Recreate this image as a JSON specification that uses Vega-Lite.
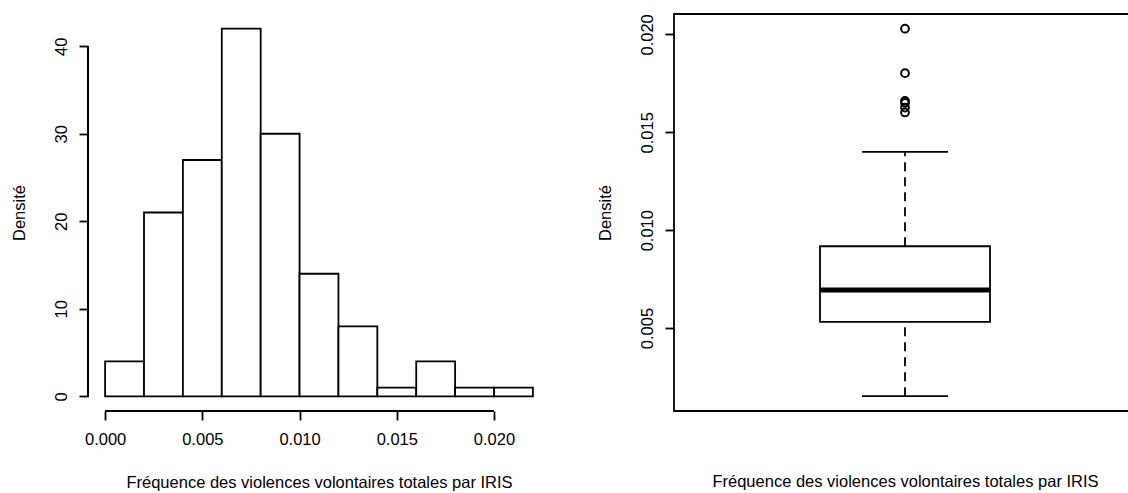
{
  "$schema": "https://vega.github.io/schema/vega-lite/v6.json",
  "padding": {"left": 10, "top": 12, "right": 0, "bottom": 0},
  "background": "white",
  "config": {
    "font": "Liberation Sans",
    "axis": {
      "labelFont": "Liberation Sans",
      "titleFont": "Liberation Sans",
      "labelFontSize": 16.5,
      "titleFontSize": 16.5,
      "labelColor": "black",
      "titleColor": "black",
      "titleFontWeight": "normal",
      "tickColor": "black",
      "tickWidth": 1.8,
      "tickSize": 9,
      "grid": false,
      "domain": false
    },
    "view": {"stroke": null}
  },
  "datasets": {
    "hist": [
      {"lo": 0.000, "hi": 0.002, "n": 4},
      {"lo": 0.002, "hi": 0.004, "n": 21},
      {"lo": 0.004, "hi": 0.006, "n": 27},
      {"lo": 0.006, "hi": 0.008, "n": 42},
      {"lo": 0.008, "hi": 0.010, "n": 30},
      {"lo": 0.010, "hi": 0.012, "n": 14},
      {"lo": 0.012, "hi": 0.014, "n": 8},
      {"lo": 0.014, "hi": 0.016, "n": 1},
      {"lo": 0.016, "hi": 0.018, "n": 4},
      {"lo": 0.018, "hi": 0.020, "n": 1},
      {"lo": 0.020, "hi": 0.022, "n": 1}
    ],
    "box": [
      {"g": "IRIS", "lower": 0.00152, "q1": 0.00532, "median": 0.00694, "q3": 0.00918, "upper": 0.01400}
    ],
    "out": [
      {"g": "IRIS", "v": 0.02029},
      {"g": "IRIS", "v": 0.01802},
      {"g": "IRIS", "v": 0.01660},
      {"g": "IRIS", "v": 0.01650},
      {"g": "IRIS", "v": 0.01626},
      {"g": "IRIS", "v": 0.01601}
    ]
  },
  "spacing": 124,
  "bounds": "flush",
  "hconcat": [
    {
      "width": 462,
      "height": 397,
      "data": {"name": "hist"},
      "layer": [
        {
          "mark": {"type": "bar", "fill": "white", "stroke": "black", "strokeWidth": 1.8},
          "encoding": {
            "x": {
              "field": "lo", "type": "quantitative",
              "scale": {"domain": [-0.00088, 0.02288], "nice": false, "zero": false},
              "axis": {
                "values": [0, 0.005, 0.01, 0.015, 0.02],
                "format": ".3f",
                "labelPadding": 11,
                "title": "Fréquence des violences volontaires totales par IRIS",
                "titlePadding": 27
              }
            },
            "x2": {"field": "hi"},
            "y": {
              "field": "n", "type": "quantitative",
              "scale": {"domain": [-1.68, 43.68], "nice": false, "zero": false},
              "axis": {
                "values": [0, 10, 20, 30, 40],
                "labelAngle": -90,
                "labelAlign": "center",
                "labelBaseline": "bottom",
                "labelPadding": 10,
                "title": "Densité",
                "titlePadding": 26
              }
            },
            "y2": {"datum": 0}
          }
        },
        {
          "mark": {"type": "rule", "stroke": "black", "strokeWidth": 1.8},
          "encoding": {
            "x": {"datum": 0, "type": "quantitative"},
            "x2": {"datum": 0.02},
            "y": {"datum": -1.68, "type": "quantitative"}
          }
        },
        {
          "mark": {"type": "rule", "stroke": "black", "strokeWidth": 1.8},
          "encoding": {
            "x": {"datum": -0.00088, "type": "quantitative"},
            "y": {"datum": 0, "type": "quantitative"},
            "y2": {"datum": 40}
          }
        }
      ]
    },
    {
      "width": 462,
      "height": 397,
      "view": {"stroke": "black", "strokeWidth": 1.8},
      "encoding": {
        "x": {
          "field": "g", "type": "nominal",
          "axis": {
            "labels": false,
            "ticks": false,
            "title": "Fréquence des violences volontaires totales par IRIS",
            "titlePadding": 62
          }
        }
      },
      "layer": [
        {
          "data": {"name": "box"},
          "mark": {"type": "rule", "stroke": "black", "strokeWidth": 1.8, "strokeDash": [9, 6]},
          "encoding": {
            "y": {
              "field": "q3", "type": "quantitative",
              "scale": {"domain": [0.000765, 0.02104], "nice": false, "zero": false},
              "axis": {
                "values": [0.005, 0.01, 0.015, 0.02],
                "format": ".3f",
                "labelAngle": -90,
                "labelAlign": "center",
                "labelBaseline": "bottom",
                "labelPadding": 10,
                "title": "Densité",
                "titlePadding": 26
              }
            },
            "y2": {"field": "upper"}
          }
        },
        {
          "data": {"name": "box"},
          "mark": {"type": "rule", "stroke": "black", "strokeWidth": 1.8, "strokeDash": [9, 6]},
          "encoding": {
            "y": {"field": "lower", "type": "quantitative"},
            "y2": {"field": "q1"}
          }
        },
        {
          "data": {"name": "box"},
          "mark": {"type": "bar", "width": 170, "fill": "white", "stroke": "black", "strokeWidth": 1.8},
          "encoding": {
            "y": {"field": "q1", "type": "quantitative"},
            "y2": {"field": "q3"}
          }
        },
        {
          "data": {"name": "box"},
          "mark": {"type": "tick", "size": 170, "thickness": 5, "color": "black", "opacity": 1},
          "encoding": {
            "y": {"field": "median", "type": "quantitative"}
          }
        },
        {
          "data": {"name": "box"},
          "mark": {"type": "tick", "size": 86, "thickness": 1.8, "color": "black", "opacity": 1},
          "encoding": {
            "y": {"field": "upper", "type": "quantitative"}
          }
        },
        {
          "data": {"name": "box"},
          "mark": {"type": "tick", "size": 86, "thickness": 1.8, "color": "black", "opacity": 1},
          "encoding": {
            "y": {"field": "lower", "type": "quantitative"}
          }
        },
        {
          "data": {"name": "out"},
          "mark": {"type": "point", "shape": "circle", "filled": false, "stroke": "black", "strokeWidth": 2, "size": 60, "opacity": 1},
          "encoding": {
            "y": {"field": "v", "type": "quantitative"}
          }
        }
      ]
    }
  ]
}
